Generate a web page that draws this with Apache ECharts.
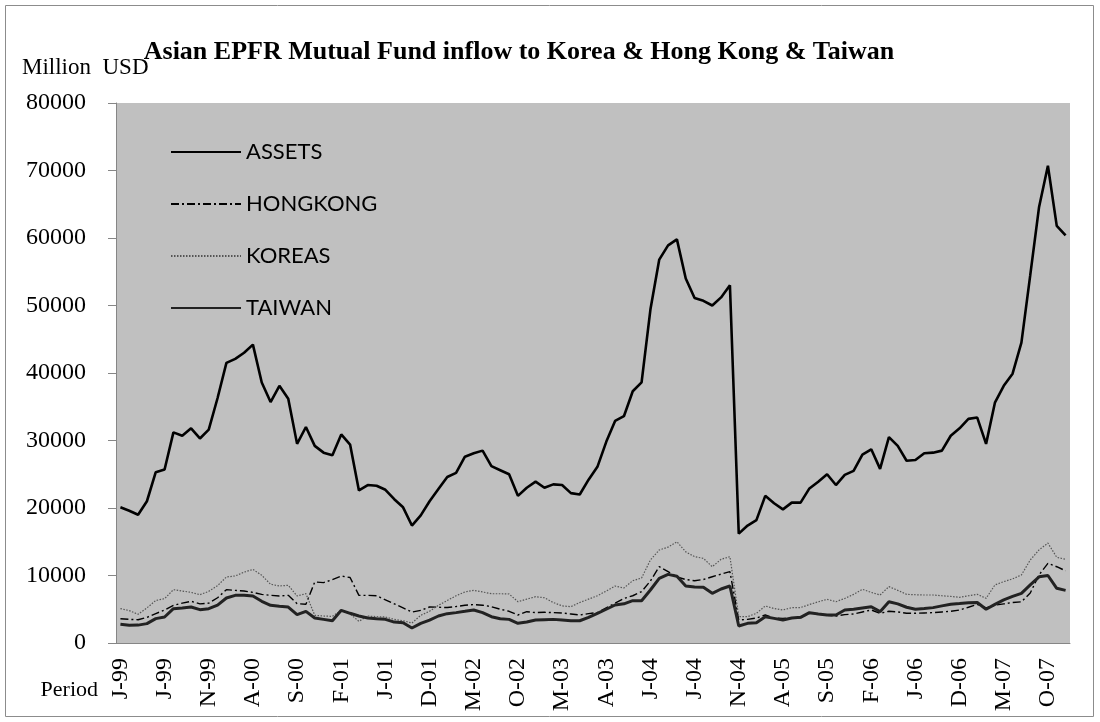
<!DOCTYPE html>
<html><head><meta charset="utf-8">
<script src="https://cdn.jsdelivr.net/npm/echarts@6/dist/echarts.min.js"></script>
<style>html,body{margin:0;padding:0;background:#fff}#c{width:1100px;height:722px}</style>
</head><body><div id="c"></div>
<script>
// Category labels: month initial + 2-digit year, Jan 1999 .. Dec 2007
const monthInitials = ['J','F','M','A','M','J','J','A','S','O','N','D'];
const years = ['99','00','01','02','03','04','05','06','07'];
const categories = [];
years.forEach(y => monthInitials.forEach(m => categories.push(m + '-' + y)));

const assets = [
  20100,19600,19000,21000,25300,25700,31200,30700,31800,30300,31600,36300,
  41500,42100,43000,44200,38600,35700,38100,36200,29500,32000,29200,28200,
  27800,30900,29400,22600,23400,23300,22700,21300,20100,17400,18900,21000,
  22800,24600,25200,27600,28100,28500,26200,25600,25000,21800,23000,23900,
  23000,23500,23400,22200,22000,24200,26100,29800,32900,33600,37300,38600,
  49400,56800,58900,59800,54000,51100,50700,50000,51200,53000,16200,17400,
  18200,21800,20700,19800,20800,20800,22900,23900,25000,23400,24900,25500,
  27900,28700,25800,30500,29200,27000,27100,28100,28200,28500,30700,31800,
  33200,33400,29500,35600,38100,39900,44500,54500,64600,70700,61800,60400
];
const hongkong = [
  3600,3500,3450,3800,4350,4900,5580,5900,6180,5800,5900,6700,
  7900,7800,7700,7500,7200,7060,6970,7060,5830,5730,9040,8940,
  9400,9930,9700,7060,7060,7000,6400,5800,5200,4590,4840,5330,
  5300,5250,5400,5600,5700,5600,5380,5000,4700,4150,4640,4500,
  4550,4500,4450,4300,4150,4350,4500,5200,5900,6600,7000,7600,
  9200,11300,10570,9800,9400,9230,9400,9820,10200,10570,3400,3500,
  3700,4150,3700,3650,3700,3750,4400,4300,4100,4000,4200,4300,
  4600,4890,4400,4700,4600,4400,4400,4450,4500,4600,4700,4890,
  5300,5730,5200,5600,5800,6000,6100,7400,10100,11800,11300,10700
];
const koreas = [
  5100,4800,4250,5200,6300,6570,7900,7700,7500,7160,7650,8500,
  9780,9930,10500,10900,10030,8700,8450,8550,6970,7310,4100,4000,
  3950,4840,4300,3210,4000,3900,3850,3500,3300,2960,4100,4700,
  5580,6300,7000,7560,7800,7560,7300,7300,7260,6120,6500,6860,
  6700,6000,5500,5380,6000,6500,7000,7700,8440,8150,9230,9630,
  12300,13780,14200,15000,13500,12790,12540,11300,12400,12790,3900,3900,
  4400,5480,5100,4890,5240,5250,5700,6100,6470,6120,6600,7200,
  7950,7500,7110,8350,7800,7210,7150,7110,7110,7000,6900,6770,
  7000,7210,6620,8600,9090,9500,10080,12300,13800,14800,12700,12400
];
const taiwan = [
  2770,2620,2650,2870,3610,3850,5090,5200,5330,4940,5090,5600,
  6670,7060,7060,6970,6180,5580,5450,5330,4200,4690,3700,3500,
  3300,4840,4400,4000,3700,3600,3510,3100,3000,2220,2900,3400,
  4000,4350,4500,4690,4890,4500,3900,3600,3500,2910,3100,3400,
  3450,3500,3400,3300,3300,3800,4400,5000,5630,5800,6270,6270,
  7850,9580,10170,9900,8440,8300,8250,7360,8000,8440,2520,2910,
  3000,3900,3650,3400,3700,3800,4500,4300,4150,4150,4890,5000,
  5200,5380,4640,6120,5800,5300,5000,5100,5240,5500,5730,5850,
  5980,6000,5000,5730,6400,6900,7360,8600,9800,10000,8100,7800
];
const seriesNames = ['ASSETS','HONGKONG','KOREAS','TAIWAN'];
const yTicks = {min: 0, max: 80000, step: 10000};
const titleText = 'Asian EPFR Mutual Fund inflow to Korea & Hong Kong & Taiwan';
const yUnitText = 'Million  USD';
const xNameText = 'Period';

const serif = 'Liberation Serif';
const chart = echarts.init(document.getElementById('c'), null, {renderer: 'canvas'});

function lineSeries(name, data, ls) {
  return {
    name, type: 'line', data, symbol: 'none', showSymbol: false, smooth: false,
    lineStyle: ls, itemStyle: {color: ls.color}, emphasis: {disabled: true},
    animation: false
  };
}

chart.setOption({
  animation: false,
  graphic: [
    {type: 'rect', silent: true, z: -10,
     shape: {x: 5.5, y: 5.5, width: 1088, height: 711},
     style: {fill: 'none', stroke: '#8c8c8c', lineWidth: 1}},
    {type: 'text', x: 519, y: 52, silent: true,
     style: {text: titleText, font: 'bold 26px "Liberation Serif"', fill: '#000',
             align: 'center', verticalAlign: 'middle'}},
    {type: 'text', x: 22, y: 68, silent: true,
     style: {text: yUnitText, font: '23px "Liberation Serif"', fill: '#000',
             align: 'left', verticalAlign: 'middle'}},
    {type: 'text', x: 98, y: 690, silent: true,
     style: {text: xNameText, font: '22px "Liberation Serif"', fill: '#000',
             align: 'right', verticalAlign: 'middle'}}
  ],
  legend: {
    orient: 'vertical', left: 165, top: 136,
    itemWidth: 70, itemHeight: 14, itemGap: 30,
    data: seriesNames,
    itemStyle: {color: 'rgba(0,0,0,0)', borderWidth: 0, opacity: 0},
    textStyle: {fontFamily: 'Lato', fontSize: 22, color: '#000', lineHeight: 22}
  },
  grid: {left: 116, right: 30, top: 103, bottom: 79, show: true,
         backgroundColor: '#c0c0c0', borderWidth: 0, containLabel: false,
         outerBoundsMode: 'none'},
  xAxis: {
    type: 'category', data: categories, boundaryGap: true,
    axisLine: {lineStyle: {color: '#868686', width: 1}},
    axisTick: {interval: 4, length: 7, alignWithLabel: false, lineStyle: {color: '#868686'}},
    axisLabel: {interval: 4, rotate: 90, margin: 15, fontFamily: serif, fontSize: 24, color: '#000'},
    splitLine: {show: false}
  },
  yAxis: {
    type: 'value', min: yTicks.min, max: yTicks.max, interval: yTicks.step,
    axisLine: {show: true, lineStyle: {color: '#868686', width: 1}},
    axisTick: {show: true, length: 8, lineStyle: {color: '#868686'}},
    axisLabel: {margin: 30, fontFamily: serif, fontSize: 24, color: '#000',
                formatter: v => String(v)},
    splitLine: {show: false}
  },
  series: [
    lineSeries('ASSETS', assets, {color: '#000', width: 2.6, type: 'solid'}),
    lineSeries('HONGKONG', hongkong, {color: '#000', width: 1.4, type: [8, 3, 2, 3]}),
    lineSeries('KOREAS', koreas, {color: '#555', width: 1.2, type: [1.5, 1.5]}),
    lineSeries('TAIWAN', taiwan, {color: '#222', width: 3, type: 'solid'})
  ]
});
</script></body></html>
